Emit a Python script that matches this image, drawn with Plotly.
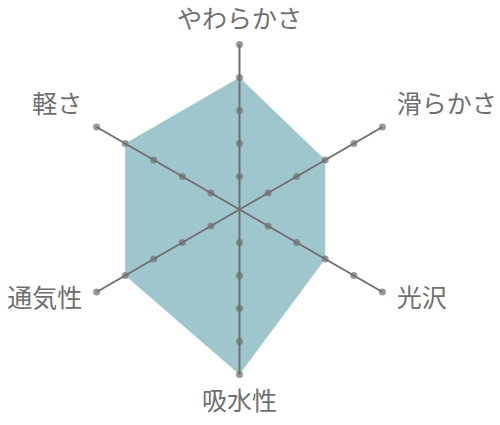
import math
import plotly.graph_objects as go

categories = ["やわらかさ", "滑らかさ", "光沢", "吸水性", "通気性", "軽さ"]
values = [4, 3, 3, 5, 4, 4]
levels = [1, 2, 3, 4, 5]

FILL = "#a0c6cd"
AXIS = "#6f6f6f"
TEXT = "#6f6f6f"
FONT = "Noto Sans CJK JP"

label_r = max(levels) + 0.5

fig = go.Figure()

fig.add_trace(go.Scatterpolar(
    r=values + [values[0]],
    theta=categories + [categories[0]],
    mode="lines",
    fill="toself",
    fillcolor=FILL,
    line=dict(width=0, color=FILL),
    hoverinfo="skip",
    showlegend=False,
))

for cat in categories:
    fig.add_trace(go.Scatterpolar(
        r=[0] + levels,
        theta=[cat] * (len(levels) + 1),
        mode="lines+markers",
        line=dict(color=AXIS, width=2),
        marker=dict(color=AXIS, size=[0] + [7] * len(levels), line=dict(width=0)),
        hoverinfo="skip",
        showlegend=False,
    ))

# point labels placed just outside the outermost level, aligned by side
n = len(categories)
positions = []
radii = []
for i in range(n):
    ang = math.radians(90 - i * 360 / n)
    c, s = math.cos(ang), math.sin(ang)
    if abs(c) < 1e-6:
        positions.append("top center" if s > 0 else "bottom center")
        radii.append(label_r - 0.2 if s > 0 else label_r)
    else:
        v = "top" if s > 0 else "middle"
        h = "right" if c > 0 else "left"
        positions.append(f"{v} {h}")
        radii.append(label_r)

fig.add_trace(go.Scatterpolar(
    r=radii,
    theta=categories,
    mode="text",
    text=categories,
    textposition=positions,
    textfont=dict(family=FONT, size=25, color=TEXT),
    cliponaxis=False,
    hoverinfo="skip",
    showlegend=False,
))

fig.update_layout(
    width=500,
    height=425,
    margin=dict(l=58, r=79, t=28, b=34),
    paper_bgcolor="white",
    plot_bgcolor="white",
    font=dict(family=FONT, size=25, color=TEXT),
    polar=dict(
        bgcolor="rgba(0,0,0,0)",
        radialaxis=dict(visible=False, range=[0, label_r]),
        angularaxis=dict(
            direction="clockwise",
            rotation=90,
            showline=False,
            showgrid=False,
            showticklabels=False,
            ticks="",
        ),
    ),
)

fig.write_html(
    "out.html",
    config={"displayModeBar": False},
    post_script="document.body.style.margin='0';",
)
